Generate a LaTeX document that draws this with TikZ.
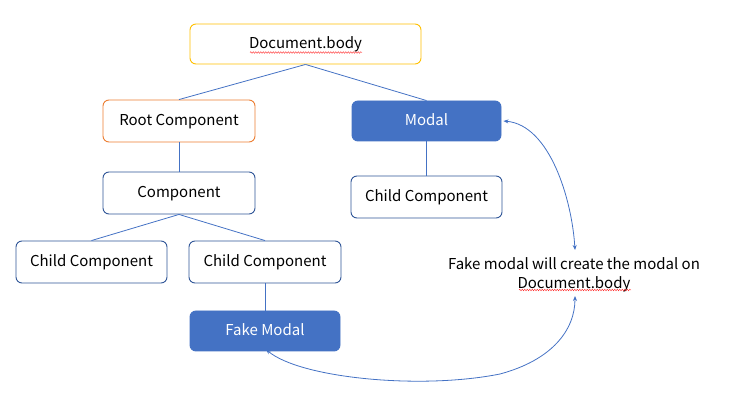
\documentclass[tikz,border=0pt]{standalone}
\usepackage{fontspec}
\setmainfont{Noto Sans CJK KR}
\usetikzlibrary{arrows.meta,decorations.pathmorphing}
\definecolor{accblue}{HTML}{4472C4}
\definecolor{darkblue}{HTML}{2F5597}
\definecolor{gold}{HTML}{FFC000}
\definecolor{orng}{HTML}{ED7D31}
\tikzset{
  x=1pt,y=-1pt,
  box/.style={draw=darkblue, line width=0.9pt, rounded corners=6pt, fill=white, inner sep=0pt, font=\fontsize{15}{17}\selectfont, text height=13pt, text depth=3pt},
  filledbox/.style={box, draw=accblue, fill=accblue, text=white},
  conn/.style={draw=accblue, line width=0.8pt},
  curvearrow/.style={draw=accblue, line width=0.8pt, {Stealth[length=5pt,width=4pt]}-{Stealth[length=5pt,width=4pt]}},
  squiggle/.style={draw=red!80, line width=0.4pt, decorate, decoration={snake, amplitude=0.8pt, segment length=2.5pt}}
}
\begin{document}
\begin{tikzpicture}
\useasboundingbox (0,0) rectangle (747,411);
\node[box, draw=gold, minimum width=231pt, minimum height=40pt] (doc) at (305.5,44) {Document.body};
\node[box, draw=orng, minimum width=152pt, minimum height=42pt] (root) at (179,121) {Root Component};
\node[filledbox, minimum width=149pt, minimum height=40pt] (modal) at (426.5,121) {Modal};
\node[box, minimum width=152pt, minimum height=42pt] (comp) at (179,193) {Component};
\node[box, minimum width=151pt, minimum height=42pt] (mchild) at (426.5,197) {Child Component};
\node[box, minimum width=151pt, minimum height=42pt] (lchild) at (91.5,262) {Child Component};
\node[box, minimum width=152pt, minimum height=42pt] (cchild) at (265,262) {Child Component};
\node[filledbox, minimum width=150pt, minimum height=40pt] (fake) at (265,331) {Fake Modal};
\node[font=\fontsize{15}{19}\selectfont, align=center, inner sep=0pt] (note) at (574,275) {Fake modal will create the modal on\\Document.body};
\coordinate (notetop) at (575,250);
\coordinate (notebot) at (575,296);
\draw[conn] (doc.south) -- (root.north);
\draw[conn] (doc.south) -- (modal.north);
\draw[conn] (root.south) -- (comp.north);
\draw[conn] (modal.south) -- (mchild.north);
\draw[conn] (comp.south) -- (lchild.north);
\draw[conn] (comp.south) -- (cchild.north);
\draw[conn] (cchild.south) -- (fake.north);
\draw[curvearrow] ([xshift=2pt]modal.east) .. controls (550,125) and (572,200) .. (notetop);
\draw[curvearrow] ([xshift=1pt,yshift=2pt]fake.south) .. controls (300,378) and (420,390) .. (500,374) .. controls (552,360) and (575,330) .. (notebot);
\coordinate (sq1a) at (250,52.5);
\coordinate (sq1b) at (362,52.5);
\draw[squiggle] (sq1a) -- (sq1b);
\coordinate (sq2a) at (519,290);
\coordinate (sq2b) at (631,290);
\draw[squiggle] (sq2a) -- (sq2b);
\end{tikzpicture}
\end{document}
